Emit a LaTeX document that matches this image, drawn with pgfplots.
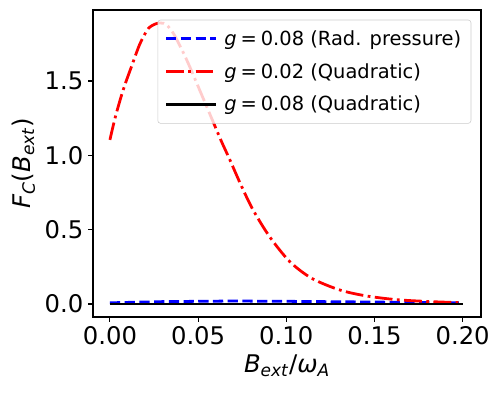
\documentclass[border=0pt]{standalone}
\usepackage{fontspec}
\setmainfont{DejaVu Sans}
\usepackage{pgfplots}
\pgfplotsset{compat=1.18}
\newcommand{\geqlab}[1]{\textit{g}\hspace{0.2em}=\hspace{0.2em}#1}
\begin{document}
\begin{tikzpicture}[x=1pt,y=1pt]
\useasboundingbox (-66.96,-54.72) rectangle (292.32,228.24);
\begin{axis}[
  at={(0,0)}, anchor=south west,
  scale only axis, width=279.36pt, height=221.04pt,
  xmin=-0.0096, xmax=0.2104, ymin=-0.0875, ymax=1.978,
  xtick={0,0.05,0.1,0.15,0.2}, ytick={0,0.5,1,1.5},
  xticklabel style={/pgf/number format/.cd,fixed,fixed zerofill,precision=2},
  yticklabel style={/pgf/number format/.cd,fixed,fixed zerofill,precision=1},
  /pgf/number format/assume math mode=true,
  tick label style={font=\fontsize{17.5}{20}\selectfont},
  label style={font=\fontsize{17.5}{20}\selectfont},
  tick align=outside, major tick length=3.5pt,
  every tick/.style={black, line width=0.8pt},
  axis line style={line width=0.8pt},
  xtick pos=bottom, ytick pos=left,
  xlabel={\textit{B}\textsubscript{\textit{ext}}/\textit{ω}\textsubscript{\textit{A}}},
  ylabel={\textit{F}\textsubscript{\textit{C}}(\textit{B}\textsubscript{\textit{ext}})},
  legend style={at={(1,1)}, anchor=north east, xshift=-7pt, yshift=-7pt,
    draw=black!20, rounded corners=2pt, fill=white, fill opacity=0.8, text opacity=1,
    font=\fontsize{14}{16.5}\selectfont, row sep=7.5pt, inner xsep=5pt, inner ysep=5.5pt},
  legend cell align=left,
  legend image code/.code={\draw[#1] (0pt,0pt) -- (28pt,0pt); \path (0pt,0pt) -- (36pt,0pt);},
]
\addplot[blue, line width=2pt, dash pattern=on 7.4pt off 3.2pt] coordinates {
(0,0.008) (0.03,0.016) (0.07,0.02) (0.1,0.018) (0.15,0.013) (0.2,0.008)};
\addlegendentry{\hspace{3pt}\geqlab{0.08} (Rad. pressure)}
\addplot[red, line width=2pt, smooth, dash pattern=on 12.8pt off 3.2pt on 2pt off 3.2pt] coordinates {
(0,1.104) (0.003,1.255) (0.0075,1.44) (0.0123,1.60) (0.017,1.75) (0.0217,1.852)
(0.026,1.885) (0.029,1.890) (0.032,1.880) (0.036,1.82) (0.040,1.73) (0.044,1.63)
(0.048,1.52) (0.053,1.38) (0.058,1.24) (0.063,1.10) (0.068,0.97) (0.0747,0.79)
(0.0813,0.63) (0.0907,0.45) (0.102,0.285) (0.1144,0.173) (0.1304,0.094)
(0.1455,0.054) (0.1626,0.029) (0.18,0.017) (0.2,0.008)};
\addlegendentry{\hspace{3pt}\geqlab{0.02} (Quadratic)}
\addplot[black, line width=2pt] coordinates {(0,0) (0.05,0) (0.1,0) (0.15,0) (0.2,0)};
\addlegendentry{\hspace{3pt}\geqlab{0.08} (Quadratic)}
\end{axis}
\end{tikzpicture}
\end{document}
